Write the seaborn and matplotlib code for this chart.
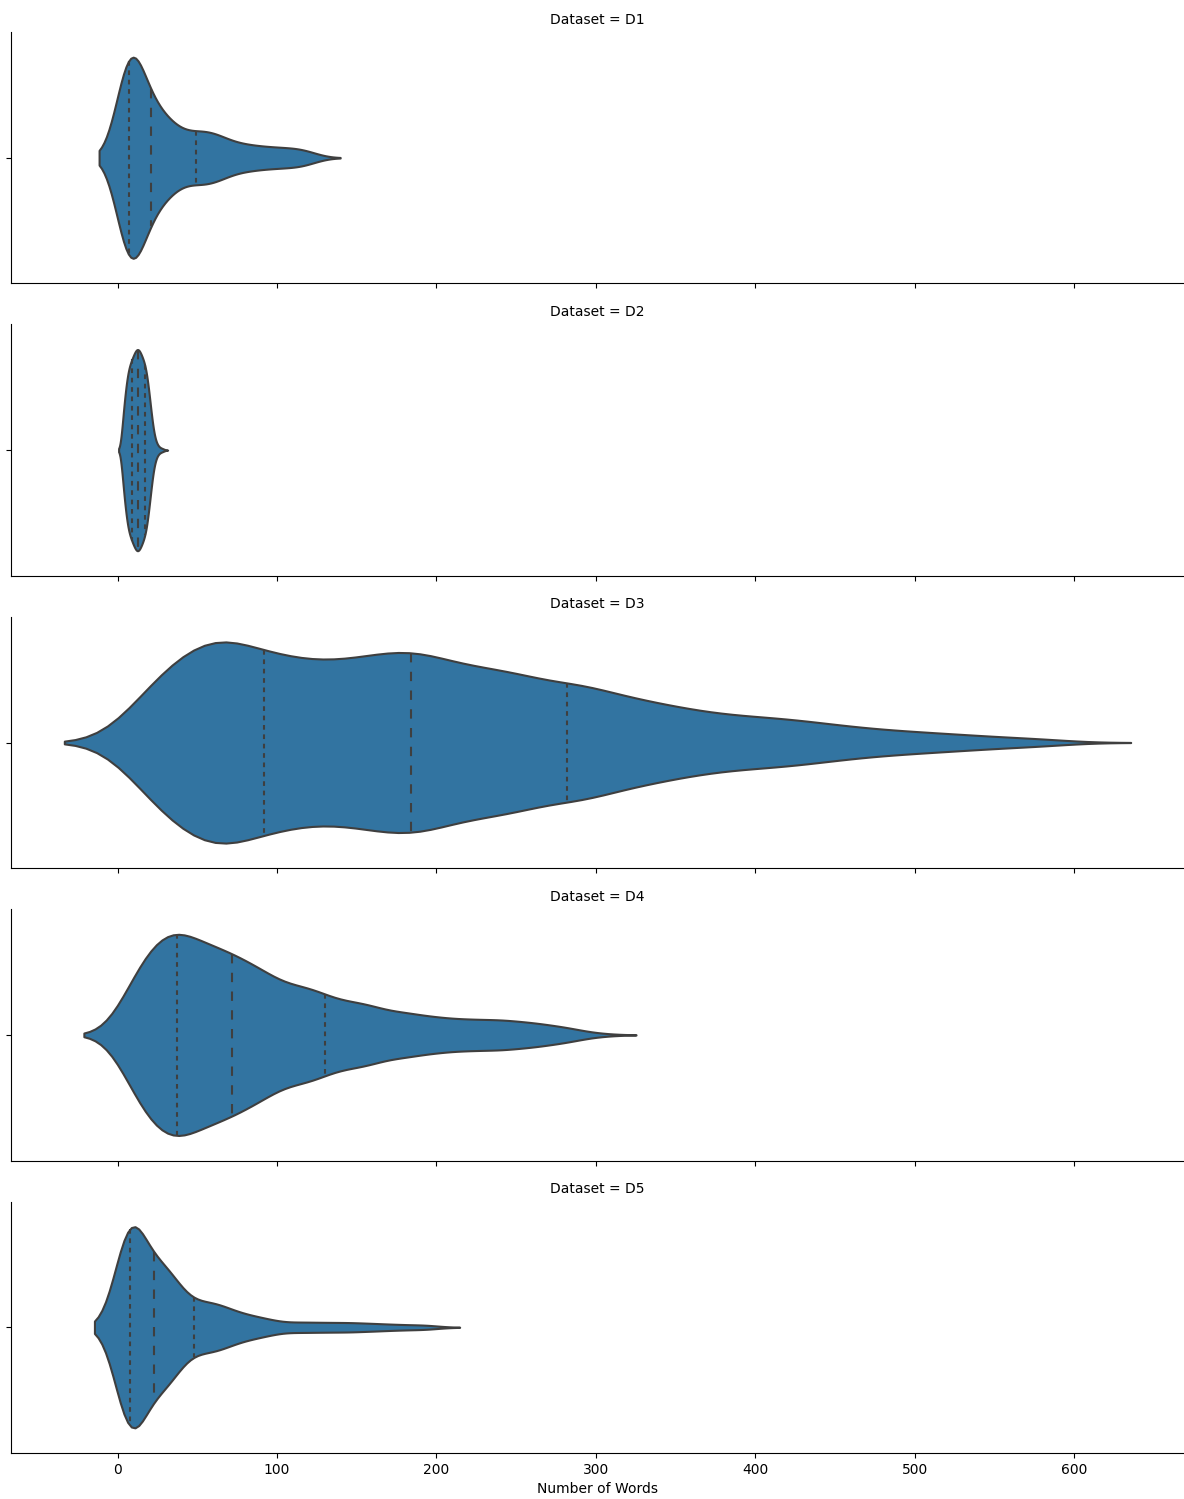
import numpy as np
import pandas as pd
import seaborn as sns
import matplotlib
matplotlib.use("Agg")
import matplotlib.pyplot as plt

datasets = ["D1", "D2", "D3", "D4", "D5"]

# word-count values and how many texts have each value
d1_words = [5, 6, 7, 9, 11, 13, 15, 18, 21, 25, 30, 35, 40, 45, 49, 55, 62, 70, 80, 90, 100, 110, 117, 123]
d1_counts = [80, 55, 50, 40, 35, 30, 30, 25, 30, 40, 34, 26, 20, 14, 22, 31, 29, 24, 22, 18, 17, 14, 9, 5]

d2_words = [3, 4, 5, 6, 7, 8, 9, 10, 11, 12, 13, 14, 15, 16, 17, 18, 19, 20, 21, 22, 23, 24, 25, 26, 27, 28, 29]
d2_counts = [30, 45, 62, 74, 83, 87, 91, 95, 99, 102, 102, 99, 95, 91, 87, 80, 68, 54, 38, 24, 14, 8, 5, 3, 2, 2, 1]

d3_words = [5, 20, 40, 60, 75, 92, 110, 130, 150, 168, 184, 200, 220, 240, 260, 282,
            300, 320, 340, 360, 380, 400, 420, 440, 460, 480, 500, 520, 540, 560, 580, 597]
d3_counts = [126, 470, 790, 830, 640, 676, 670, 689, 678, 643, 618, 650, 655, 605, 582, 504,
             431, 386, 328, 277, 235, 218, 202, 168, 134, 109, 92, 76, 59, 42, 34, 8]

d4_words = [4, 8, 16, 24, 30, 37, 45, 55, 64, 72, 82, 95, 110, 120, 130, 145, 160, 180, 200, 220, 240, 260, 280, 300]
d4_counts = [52, 152, 237, 246, 245, 292, 333, 316, 258, 253, 300, 320, 215, 165, 176, 178, 181, 163, 126, 111, 111, 89, 59, 11]

d5_words = [4, 5, 6, 7, 8, 10, 12, 14, 17, 20, 23, 27, 31, 35, 39, 43, 48,
            55, 62, 70, 80, 90, 100, 115, 130, 145, 160, 175, 190, 196]
d5_counts = [60, 100, 90, 80, 80, 60, 56, 50, 50, 44, 60, 90, 80, 60, 40, 30, 30,
             60, 50, 46, 36, 28, 18, 22, 20, 20, 16, 12, 8, 4]

all_words = [d1_words, d2_words, d3_words, d4_words, d5_words]
all_counts = [d1_counts, d2_counts, d3_counts, d4_counts, d5_counts]

frames = []
for name, words, counts in zip(datasets, all_words, all_counts):
    frames.append(pd.DataFrame({"Number of Words": np.repeat(words, counts), "Dataset": name}))
df = pd.concat(frames, ignore_index=True)

g = sns.catplot(data=df, x="Number of Words", row="Dataset", kind="violin",
                inner="quartile", linewidth=1.5, inner_kws=dict(linewidth=1.5),
                height=2.9, aspect=4)

# older-style quartile dashes: short for the quartiles, long for the median
for ax in g.axes.flat:
    for i, line in enumerate(ax.lines[:3]):
        line.set_dashes([4.5, 4.5] if i == 1 else [2.25, 2.25])

fig = g.figure
fig.set_size_inches(11.84, 14.99)
fig.subplots_adjust(left=11 / 1184, right=1.0, top=1 - 32 / 1499,
                    bottom=1 - 1453 / 1499, hspace=41 / 252)
fig.savefig("out.png", dpi=100)
